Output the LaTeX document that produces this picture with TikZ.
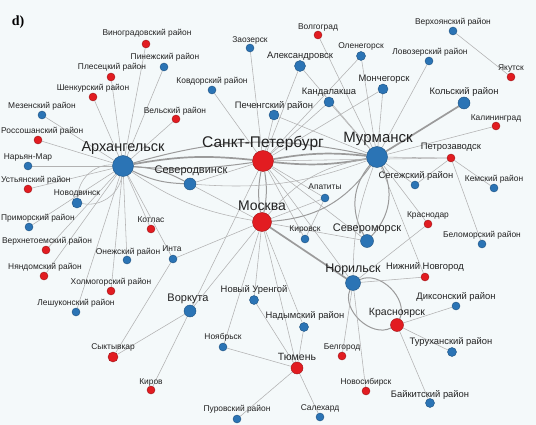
\documentclass[tikz,border=0pt]{standalone}
\usepackage{fontspec}
\setmainfont{Liberation Sans}
\newfontfamily\serifd{Liberation Serif}
\pgfdeclarelayer{edges}
\pgfsetlayers{edges,main}
\definecolor{bgc}{RGB}{244,249,250}
\definecolor{nblue}{RGB}{43,116,181}
\definecolor{nred}{RGB}{226,28,33}
\definecolor{eg}{RGB}{178,178,178}
\definecolor{egd}{RGB}{155,155,155}
\definecolor{txt}{RGB}{34,34,34}
\tikzset{
  bn/.style={circle,fill=nblue,draw=nblue!70!black,line width=0.4pt,inner sep=0pt,minimum size=#1},
  bn/.default=8pt,
  rn/.style={circle,fill=nred,draw=nred!70!black,line width=0.4pt,inner sep=0pt,minimum size=#1},
  rn/.default=8pt,
  ls/.style={font=\fontsize{8.4}{9}\selectfont,text=txt,inner sep=0pt},
  lm/.style={font=\fontsize{9.4}{10}\selectfont,text=txt,inner sep=0pt},
  ll/.style={font=\fontsize{#1}{#1}\selectfont,text=txt,inner sep=0pt},
  e/.style={draw=eg,line width=0.55pt},
  M/.style={draw=egd,line width=1.0pt},
  E/.style={draw=egd,line width=1.7pt},
}
\begin{document}
\begin{tikzpicture}[x=1pt,y=-1pt]
\useasboundingbox (0,0) rectangle (536,425);
% ---------- nodes ----------
\node[rn] (vin) at (146,44) {};
\node[bn] (pin) at (164,67) {};
\node[rn] (ple) at (111,77) {};
\node[rn] (shen) at (93,97) {};
\node[bn] (mez) at (42,115) {};
\node[rn] (vel) at (176,119) {};
\node[rn] (ros) at (38,140) {};
\node[bn] (nar) at (28,166) {};
\node[rn] (ust) at (28,189) {};
\node[bn=10pt] (nov) at (77,203) {};
\node[bn] (pri) at (29,227) {};
\node[rn] (vto) at (46,250) {};
\node[rn] (nya) at (44,276) {};
\node[rn] (kot) at (151,229) {};
\node[bn] (one) at (127,260) {};
\node[bn] (inta) at (173,259) {};
\node[rn] (hol) at (111,291) {};
\node[bn] (les) at (76,312) {};
\node[rn=10pt] (syk) at (113,357) {};
\node[rn] (kir) at (151,390) {};
\node[bn=12pt] (vor) at (190,311) {};
\node[bn=9pt] (nur) at (254,300) {};
\node[bn=9pt] (nad) at (304,327) {};
\node[bn] (noy) at (223,347) {};
\node[rn=12pt] (tyu) at (297,368) {};
\node[bn] (pur) at (237,419) {};
\node[bn] (sal) at (320,417) {};
\node[rn] (bel) at (342,356) {};
\node[rn] (nsk) at (366,391) {};
\node[rn=13pt] (kry) at (397,325) {};
\node[bn] (dik) at (456,306) {};
\node[bn=9pt] (tur) at (452,352) {};
\node[bn=9pt] (bai) at (430,403) {};
\node[bn=15pt] (nor) at (353,283) {};
\node[rn] (nnov) at (425,277) {};
\node[rn] (krd) at (428,224) {};
\node[bn] (blm) at (482,244) {};
\node[bn] (seg) at (415,185) {};
\node[bn] (kem) at (494,188) {};
\node[rn] (ptz) at (451,158) {};
\node[bn=21pt] (mur) at (377,157) {};
\node[bn=13pt] (svm) at (367,241) {};
\node[bn] (kirov) at (305,239) {};
\node[bn] (apa) at (325,198) {};
\node[rn=19pt] (msk) at (262,222) {};
\node[rn=21pt] (spb) at (263,161) {};
\node[bn=12pt] (sev) at (190,184) {};
\node[bn=21pt] (arh) at (123,166) {};
\node[bn] (zao) at (250,48) {};
\node[rn] (vol) at (318,35) {};
\node[bn=11pt] (ale) at (300,66) {};
\node[bn] (kov) at (212,90) {};
\node[bn=10pt] (pec) at (274,115) {};
\node[bn=10pt] (kan) at (329,102) {};
\node[bn=9pt] (ole) at (361,56) {};
\node[bn=10pt] (mon) at (383,89) {};
\node[bn] (lov) at (429,61) {};
\node[bn] (ver) at (453,31) {};
\node[rn] (yak) at (511,77) {};
\node[bn=12pt] (kol) at (464,103) {};
\node[rn] (kal) at (496,126) {};
% ---------- labels ----------
\node[font=\serifd\bfseries\fontsize{14}{14}\selectfont,inner sep=0pt] (title) at (18,22) {d)};
\node[ls] (vin-l) at (147,33) {Виноградовский район};
\node[ls] (pin-l) at (165,57) {Пинежский район};
\node[ls] (ple-l) at (112,67) {Плесецкий район};
\node[ls] (shen-l) at (93,88) {Шенкурский район};
\node[ls] (mez-l) at (42,106) {Мезенский район};
\node[ls] (vel-l) at (175,111) {Вельский район};
\node[ls,anchor=west] (ros-l) at (1,131) {Россошанский район};
\node[ls] (nar-l) at (28,157) {Нарьян-Мар};
\node[ls,anchor=west] (ust-l) at (1,180) {Устьянский район};
\node[ls] (nov-l) at (77,193) {Новодвинск};
\node[ls,anchor=west] (pri-l) at (1,218) {Приморский район};
\node[ls] (vto-l) at (47,241) {Верхнетоемский район};
\node[ls] (nya-l) at (45,267) {Няндомский район};
\node[ls] (kot-l) at (151,220) {Котлас};
\node[ls] (one-l) at (128,252) {Онежский район};
\node[ls] (inta-l) at (172,249) {Инта};
\node[ls] (hol-l) at (111,282) {Холмогорский район};
\node[ls] (les-l) at (76,303) {Лешуконский район};
\node[ls] (syk-l) at (113,347) {Сыктывкар};
\node[ls] (kir-l) at (151,382) {Киров};
\node[ll=11] (vor-l) at (188,299) {Воркута};
\node[lm] (nur-l) at (254,290) {Новый Уренгой};
\node[lm] (nad-l) at (305,316) {Надымский район};
\node[ls] (noy-l) at (223,337) {Ноябрьск};
\node[ll=10.5] (tyu-l) at (297,357) {Тюмень};
\node[ls] (pur-l) at (237,409) {Пуровский район};
\node[ls] (sal-l) at (320,408) {Салехард};
\node[ls] (bel-l) at (342,347) {Белгород};
\node[ls] (nsk-l) at (366,382) {Новосибирск};
\node[ll=10.5] (kry-l) at (397,313) {Красноярск};
\node[lm] (dik-l) at (456,297) {Диксонский район};
\node[lm] (tur-l) at (451,342) {Туруханский район};
\node[lm] (bai-l) at (430,395) {Байкитский район};
\node[ll=12.5] (nor-l) at (353,269) {Норильск};
\node[lm] (nnov-l) at (425,267) {Нижний Новгород};
\node[ls] (krd-l) at (428,215) {Краснодар};
\node[ls] (blm-l) at (482,235) {Беломорский район};
\node[lm] (seg-l) at (416,176) {Сегежский район};
\node[ls] (kem-l) at (494,179) {Кемский район};
\node[lm] (ptz-l) at (451,147) {Петрозаводск};
\node[ll=15] (mur-l) at (378,139) {Мурманск};
\node[ll=11] (svm-l) at (367,229) {Североморск};
\node[ls] (kirov-l) at (305,229) {Кировск};
\node[ls] (apa-l) at (325,187) {Апатиты};
\node[ll=14] (msk-l) at (262,206) {Москва};
\node[ll=15.5] (spb-l) at (263,143) {Санкт-Петербург};
\node[ll=11] (sev-l) at (191,171) {Северодвинск};
\node[ll=14.5] (arh-l) at (123,148) {Архангельск};
\node[ls] (zao-l) at (250,40) {Заозерск};
\node[ls] (vol-l) at (318,27) {Волгоград};
\node[lm] (ale-l) at (300,56) {Александровск};
\node[ls] (kov-l) at (212,81) {Ковдорский район};
\node[lm] (pec-l) at (274,106) {Печенгский район};
\node[lm] (kan-l) at (329,92) {Кандалакша};
\node[ls] (ole-l) at (361,46) {Оленегорск};
\node[lm] (mon-l) at (384,79) {Мончегорск};
\node[ls] (lov-l) at (430,52) {Ловозерский район};
\node[ls] (ver-l) at (453,22) {Верхоянский район};
\node[ls] (yak-l) at (511,68) {Якутск};
\node[lm] (kol-l) at (464,92) {Кольский район};
\node[ls] (kal-l) at (496,118) {Калининград};
% ---------- edges ----------
\begin{pgfonlayer}{edges}
\fill[bgc] (0,0) rectangle (536,425);
\foreach \n in {vin,pin,ple,shen,mez,vel,ros,nar,ust,pri,vto,nya,kot,one,hol,les,inta}
  \draw[e] (arh) -- (\n);
\draw[e] (arh) to[bend left=45] (nov);
\draw[e] (arh) to[bend right=45] (nov);
\draw[M] (arh) to[bend left=12] (sev);
\draw[M] (arh) to[bend right=12] (sev);
\draw[E] (arh) to[bend left=8] (spb);
\draw[M] (arh) to[bend right=6] (spb);
\draw[M] (arh) to[bend left=14] (mur);
\draw[e] (arh) to[bend right=12] (msk);
\draw[M] (spb) to[bend left=10] (msk);
\draw[M] (spb) to[bend right=10] (msk);
\draw[E] (spb) to[bend left=8] (mur);
\draw[E] (spb) to[bend right=8] (mur);
\foreach \n in {sev,kov,zao,pec,ale,kan,mon,ole,apa,kirov,svm,nor,ptz,vor}
  \draw[e] (spb) -- (\n);
\draw[M] (msk) to[bend right=25] (mur);
\draw[e] (msk) to[bend left=20] (mur);
\draw[E] (msk) -- (nor);
\foreach \n in {svm,apa,inta,vor,nur,noy,nad,tyu,sev}
  \draw[e] (msk) -- (\n);
\foreach \n in {ole,mon,lov,kal,ptz,seg,krd,nnov,vol,ale,pec,kan}
  \draw[e] (mur) -- (\n);
\draw[E] (mur) -- (kol);
\draw[M] (mur) to[bend left=35] (svm);
\draw[M] (mur) to[bend right=35] (svm);
\draw[e] (mur) to[bend right=10] (nor);
\draw[e] (sev) to[bend right=12] (mur);
\foreach \n in {kem,blm,seg}
  \draw[e] (ptz) -- (\n);
\draw[M] (nor) to[bend left=70] (kry);
\draw[M] (nor) to[bend right=70] (kry);
\foreach \n in {nnov,nsk,bel,krd}
  \draw[e] (nor) -- (\n);
\foreach \n in {dik,tur,bai}
  \draw[e] (kry) -- (\n);
\foreach \n in {nur,noy,nad,pur,sal}
  \draw[e] (tyu) -- (\n);
\draw[e] (vor) -- (syk);
\draw[e] (vor) -- (kir);
\draw[e] (inta) -- (syk);
\draw[e] (ver) -- (yak);
\draw[e] (apa) -- (kirov);
\end{pgfonlayer}
\end{tikzpicture}
\end{document}
